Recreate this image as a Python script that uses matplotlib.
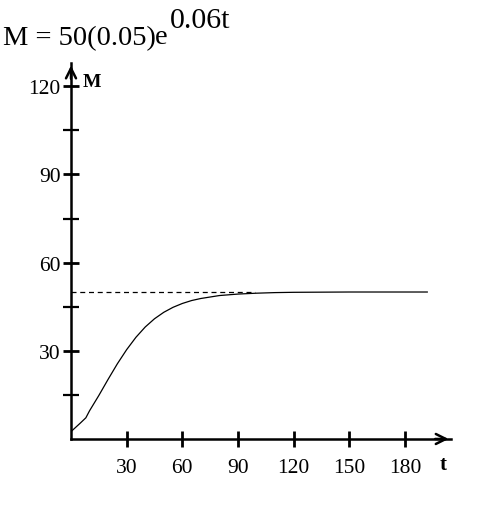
import matplotlib
matplotlib.use("Agg")
import matplotlib.pyplot as plt
from matplotlib.ticker import FixedLocator

# values
t_vals = [0, 5, 8, 10, 15, 20, 25, 30, 35, 40, 45, 50, 55, 60, 65, 70,
          80, 90, 100, 110, 120, 150, 192]
M_vals = [2.5, 5.4, 7.2, 9.6, 14.8, 20.3, 25.6, 30.4, 34.6, 38.1, 40.9,
          43.1, 44.8, 46.1, 47.1, 47.8, 48.8, 49.3, 49.6, 49.8, 49.9, 50.0, 50.0]

limit_value = 50
dash_end = 99

x_ticks = [30, 60, 90, 120, 150, 180]
y_ticks = [30, 60, 90, 120]
y_minor = [15, 45, 75, 105]

serif = ["Liberation Serif", "DejaVu Serif"]

fig = plt.figure(figsize=(4.9, 5.1), dpi=100)
ax = fig.add_axes([0.1449, 0.1373, 0.7763, 0.7377])

ax.plot(t_vals, M_vals, color="black", lw=0.9)
ax.plot([0, dash_end], [limit_value, limit_value], color="black", lw=0.9,
        dashes=(4, 3))

ax.set_xlim(0, 205)
ax.set_ylim(0, 128)

for s in ["top", "right"]:
    ax.spines[s].set_visible(False)
for s in ["left", "bottom"]:
    ax.spines[s].set_linewidth(1.8)

ax.set_xticks(x_ticks)
ax.set_yticks(y_ticks)
ax.yaxis.set_minor_locator(FixedLocator(y_minor))
ax.tick_params(which="major", direction="inout", length=12, width=2,
               labelsize=15.5, pad=1.5)
ax.tick_params(axis="x", which="major", pad=8)
ax.tick_params(which="minor", direction="inout", length=11, width=1.6)
for lab in ax.get_xticklabels() + ax.get_yticklabels():
    lab.set_fontfamily(serif)

# arrow heads on the axes
ax.annotate("", xy=(1.0, 0), xycoords="axes fraction", xytext=(0.95, 0),
            arrowprops=dict(arrowstyle="->", lw=1.8, mutation_scale=18),
            annotation_clip=False)
ax.annotate("", xy=(0, 1.0), xycoords="axes fraction", xytext=(0, 0.95),
            arrowprops=dict(arrowstyle="->", lw=1.8, mutation_scale=18),
            annotation_clip=False)

fig.text(83 / 490, 1 - 87 / 510, "M", fontsize=14, family=serif,
         fontweight="bold", va="baseline")
fig.text(440 / 490, 1 - 470 / 510, "t", fontsize=15, family=serif,
         fontweight="bold", va="baseline")

# formula at the top
fig.text(3 / 490, 1 - 45 / 510, "M = 50(0.05)", fontsize=20.5, family=serif,
         va="baseline")
fig.text(155 / 490, 1 - 44 / 510, "e", fontsize=20.5, family=serif,
         va="baseline")
fig.text(170 / 490, 1 - 28 / 510, "0.06t", fontsize=21.5, family=serif,
         va="baseline")

fig.savefig("out.png", dpi=100)
